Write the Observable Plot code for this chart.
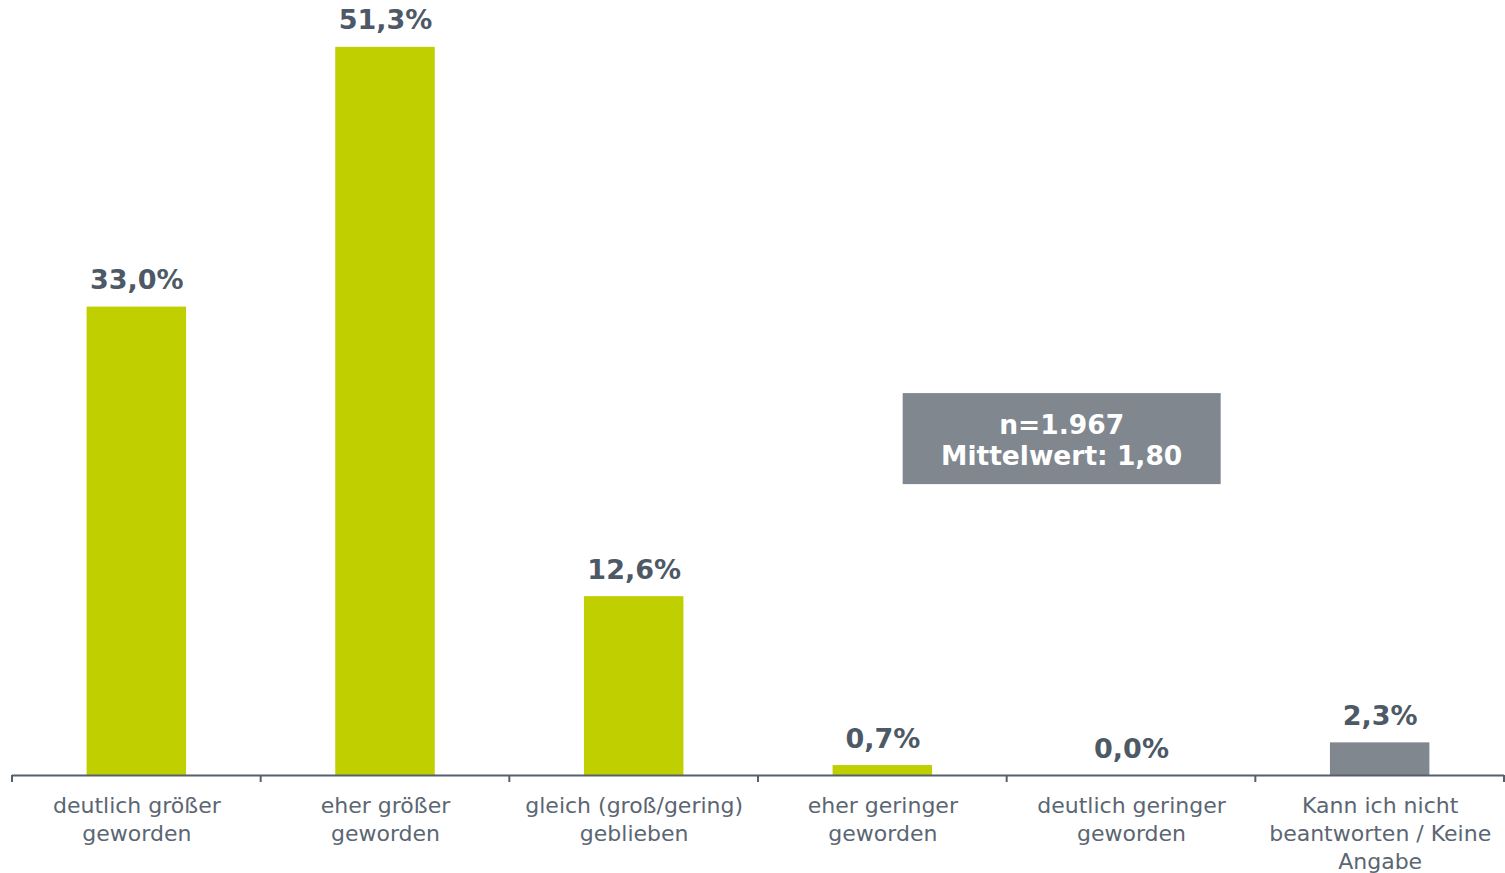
<!DOCTYPE html>
<html><head><meta charset="utf-8">
<script src="https://cdn.jsdelivr.net/npm/d3@7"></script>
<script src="https://cdn.jsdelivr.net/npm/@observablehq/plot@0.6"></script>
<style>body{margin:0;background:#fff;overflow:hidden}</style>
</head><body><div id="chart"></div>
<script>
const categories = [
  "deutlich größer\ngeworden",
  "eher größer\ngeworden",
  "gleich (groß/gering)\ngeblieben",
  "eher geringer\ngeworden",
  "deutlich geringer\ngeworden",
  "Kann ich nicht\nbeantworten / Keine\nAngabe"
];
const values = [33.0, 51.3, 12.6, 0.7, 0.0, 2.3];
const valueLabels = ["33,0%", "51,3%", "12,6%", "0,7%", "0,0%", "2,3%"];
const groups = ["Bewertung", "Bewertung", "Bewertung", "Bewertung", "Bewertung", "Keine Angabe"];
const noteLines = ["n=1.967", "Mittelwert: 1,80"];
const noteAnchor = {after: "eher geringer\ngeworden", value: 23.7};

const data = categories.map((c, i) => ({cat: c, value: values[i], label: valueLabels[i], group: groups[i]}));

const FONT = "DejaVu Sans, Verdana, sans-serif";
const AXIS = "#56606c";

function boundaryTicks(index, scales, values, dims) {
  const n = categories.length;
  const step = (dims.width - dims.marginLeft - dims.marginRight) / n;
  const y0 = scales.y(0);
  const g = d3.create("svg:g");
  g.selectAll("line").data(d3.range(n + 1)).join("line")
    .attr("x1", i => dims.marginLeft + i * step)
    .attr("x2", i => dims.marginLeft + i * step)
    .attr("y1", y0).attr("y2", y0 + 7)
    .attr("stroke", AXIS).attr("stroke-width", 2);
  return g.node();
}

function noteBox(index, scales, values, dims) {
  const n = categories.length;
  const step = (dims.width - dims.marginLeft - dims.marginRight) / n;
  const i = categories.indexOf(noteAnchor.after);
  const cx = dims.marginLeft + (i + 1) * step + 55;
  const cy = scales.y(noteAnchor.value);
  const w = 318, h = 91;
  const g = d3.create("svg:g");
  g.append("rect").attr("x", cx - w / 2).attr("y", cy - h / 2).attr("width", w).attr("height", h).attr("fill", "#80878f");
  g.selectAll("text").data(noteLines).join("text")
    .attr("x", cx).attr("y", (d, k) => cy - 5 + k * 31)
    .attr("text-anchor", "middle").attr("fill", "#fff")
    .attr("font-family", FONT).attr("font-weight", "bold").attr("font-size", 26.5)
    .text(d => d);
  return g.node();
}

const plot = Plot.plot({
  width: 1505,
  height: 873,
  marginLeft: 12,
  marginRight: 1,
  marginTop: 0,
  marginBottom: 98,
  style: {fontFamily: FONT, background: "#fff"},
  x: {domain: categories, padding: 0.6, paddingOuter: 0.3, round: false, label: null},
  y: {domain: [0, 54.6], axis: null},
  color: {domain: ["Bewertung", "Keine Angabe"], range: ["#bfcf00", "#80878f"]},
  marks: [
    Plot.barY(data, {x: "cat", y: "value", fill: "group"}),
    Plot.ruleY([0], {stroke: AXIS, strokeWidth: 2}),
    boundaryTicks,
    Plot.text(data, {x: "cat", y: "value", text: "label", dy: -18, lineAnchor: "bottom",
      fill: "#4d5966", fontWeight: "bold", fontSize: 27}),
    Plot.axisX({tickSize: 0, tickPadding: 17, fontSize: 22, lineHeight: 1.28, fill: "#5b6672", label: null}),
    noteBox
  ]
});
document.getElementById("chart").appendChild(plot);
</script>
</body></html>
